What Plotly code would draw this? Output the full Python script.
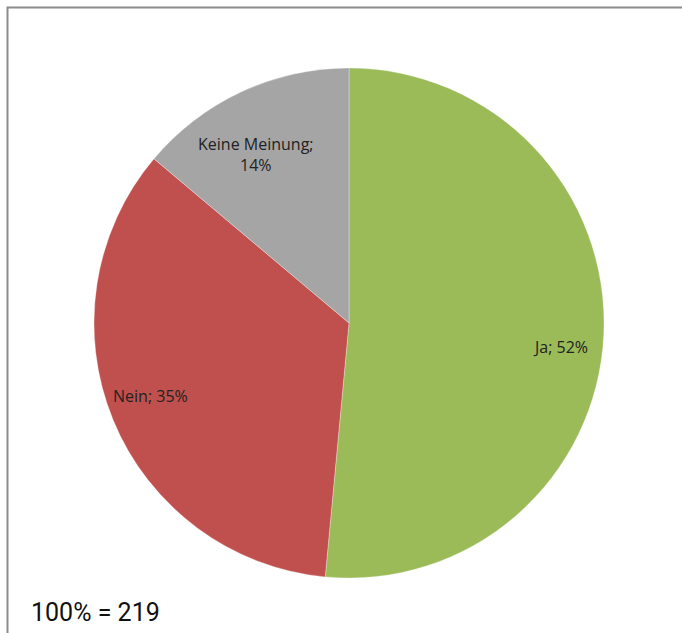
import math
import plotly.graph_objects as go

# Survey answers and their shares (percent)
labels = ["Ja", "Nein", "Keine Meinung"]
shares = [52, 35, 14]
slice_texts = ["Ja; 52%", "Nein; 35%", "Keine Meinung;<br>14%"]
colors = ["#9BBB59", "#C0504D", "#A5A5A5"]
total_note = "100% = 219"

# data-label placement: fraction of pie radius plus a small pixel nudge (dx, dy)
label_radius = [0.82, 0.83, 0.76]
label_nudge = [(3, 14), (-3, -7), (-11, 7)]

W, H = 682, 633
cx, cy, r = 349, 323, 255

fig = go.Figure(
    go.Pie(
        labels=labels,
        values=shares,
        textinfo="none",
        marker=dict(colors=colors, line=dict(color="rgba(255,255,255,0.6)", width=0.5)),
        sort=False,
        direction="clockwise",
        rotation=0,
        showlegend=False,
        hoverinfo="label+value",
        domain=dict(
            x=[(cx - r) / W, (cx + r) / W],
            y=[(H - cy - r) / H, (H - cy + r) / H],
        ),
    )
)

# Data labels at each slice's mid-angle (clockwise from 12 o'clock)
total = sum(shares)
start = 0.0
for txt, val, rf, (ndx, ndy) in zip(slice_texts, shares, label_radius, label_nudge):
    span = 360.0 * val / total
    mid = math.radians(start + span / 2)
    start += span
    px = cx + rf * r * math.sin(mid) + ndx
    py = cy - rf * r * math.cos(mid) + ndy
    fig.add_annotation(
        text=txt, xref="paper", yref="paper",
        x=px / W, y=1 - py / H, xanchor="center", yanchor="middle",
        showarrow=False, align="center",
        font=dict(family="Open Sans", size=16, color="#222222"),
    )

# Chart frame (open to the right and bottom edges of the page)
fig.add_shape(
    type="rect", xref="paper", yref="paper",
    x0=7.5 / W, x1=1.02, y0=-0.02, y1=1 - 7.5 / H,
    line=dict(color="#8C8C8C", width=2),
)

fig.add_annotation(
    text=total_note, xref="paper", yref="paper",
    x=29 / W, y=1 - 612 / H, xanchor="left", yanchor="middle",
    showarrow=False,
    font=dict(family="Roboto", size=25, color="#111111"),
)

fig.update_layout(
    width=W, height=H,
    margin=dict(l=0, r=0, t=0, b=0),
    paper_bgcolor="white",
    plot_bgcolor="white",
)

fig.write_html("out.html")
